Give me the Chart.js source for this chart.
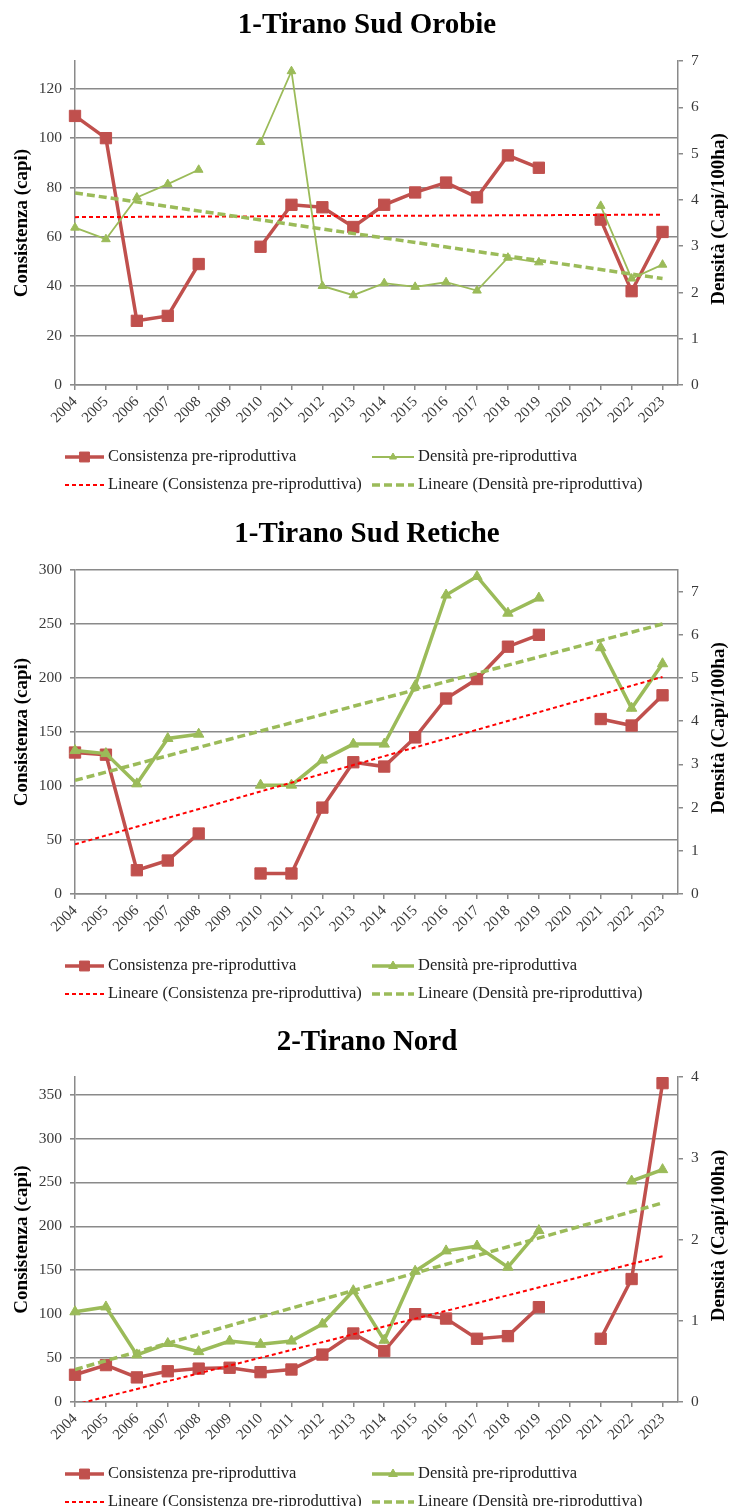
<!DOCTYPE html>
<html>
<head>
<meta charset="utf-8">
<script src="https://cdn.jsdelivr.net/npm/chart.js@4.4.0/dist/chart.umd.min.js"></script>
<style>
  html, body { margin: 0; padding: 0; background: #fff; overflow: hidden; width: 729px; height: 1506px; }
  .block { position: absolute; left: 0; width: 729px; height: 509px; }
</style>
</head>
<body>
<div class="block" style="top:0px"><canvas id="c1" width="729" height="509"></canvas></div>
<div class="block" style="top:509px"><canvas id="c2" width="729" height="509"></canvas></div>
<div class="block" style="top:1017px"><canvas id="c3" width="729" height="509"></canvas></div>
<script>
const years = [2004, 2005, 2006, 2007, 2008, 2009, 2010, 2011, 2012, 2013,
               2014, 2015, 2016, 2017, 2018, 2019, 2020, 2021, 2022, 2023];
const trendYears = [2004, 2023];

// 1-Tirano Sud Orobie
const orobieCons = [109, 100, 26, 28, 49, null, 56, 73, 72, 64, 73, 78, 82, 76, 93, 88, null, 67, 38, 62];
const orobieDens = [3.40, 3.15, 4.05, 4.34, 4.65, null, 5.25, 6.78, 2.14, 1.94, 2.20, 2.12, 2.22, 2.04, 2.75, 2.65, null, 3.87, 2.30, 2.60];
const orobieConsTrend = [68, 69];
const orobieDensTrend = [4.15, 2.30];
const orobieLeftTicks = [0, 20, 40, 60, 80, 100, 120];
const orobieRightTicks = [0, 1, 2, 3, 4, 5, 6, 7];

// 1-Tirano Sud Retiche
const reticheCons = [131, 129, 22, 31, 56, null, 19, 19, 80, 122, 118, 145, 181, 199, 229, 240, null, 162, 156, 184];
const reticheDens = [3.32, 3.25, 2.55, 3.60, 3.70, null, 2.52, 2.52, 3.10, 3.47, 3.47, 4.82, 6.92, 7.35, 6.50, 6.85, null, 5.70, 4.30, 5.33];
const reticheConsTrend = [46, 201];
const reticheDensTrend = [2.63, 6.25];
const reticheLeftTicks = [0, 50, 100, 150, 200, 250, 300];
const reticheRightTicks = [0, 1, 2, 3, 4, 5, 6, 7];

// 2-Tirano Nord
const nordCons = [31, 42, 28, 35, 38, 39, 34, 37, 54, 78, 58, 100, 95, 72, 75, 108, null, 72, 140, 363];
const nordDens = [1.11, 1.17, 0.58, 0.72, 0.62, 0.75, 0.71, 0.75, 0.96, 1.37, 0.76, 1.61, 1.86, 1.92, 1.66, 2.11, null, null, 2.72, 2.86];
const nordConsTrend = [-3, 166];
const nordDensTrend = [0.40, 2.45];
const nordLeftTicks = [0, 50, 100, 150, 200, 250, 300, 350];
const nordRightTicks = [0, 1, 2, 3, 4];

const RED = '#C0504D';
const GREEN = '#9BBB59';
const GRID = '#8a8a8a';
const FONT = '"Liberation Serif", serif';

Chart.defaults.font.family = FONT;
Chart.defaults.color = '#3a3a3a';

const xy = (xs, ys) => xs.map((x, i) => ({ x: x, y: ys[i] }));

// titles, axis titles and legend
const decor = {
  id: 'decor',
  afterDraw(chart, args, o) {
    const ctx = chart.ctx;
    const a = chart.chartArea;
    const cy = (a.top + a.bottom) / 2;
    ctx.save();
    ctx.fillStyle = '#000';
    ctx.textAlign = 'center';
    ctx.textBaseline = 'middle';
    ctx.font = 'bold 29px ' + FONT;
    ctx.fillText(o.title, 367, o.titleY);

    ctx.font = 'bold 19px ' + FONT;
    ctx.save();
    ctx.translate(22, cy);
    ctx.rotate(-Math.PI / 2);
    ctx.fillText('Consistenza (capi)', 0, 0);
    ctx.restore();
    ctx.save();
    ctx.translate(719, cy - 4);
    ctx.rotate(-Math.PI / 2);
    ctx.fillText('Densità (Capi/100ha)', 0, 0);
    ctx.restore();

    const ds = chart.data.datasets;
    const items = [
      { d: ds[0], x0: 65, x1: 104, y: 457 },
      { d: ds[1], x0: 372, x1: 414, y: 457 },
      { d: ds[2], x0: 65, x1: 104, y: 485 },
      { d: ds[3], x0: 372, x1: 414, y: 485 }
    ];
    items.forEach(it => {
      const d = it.d;
      ctx.save();
      ctx.strokeStyle = d.borderColor;
      ctx.lineWidth = d.borderWidth;
      ctx.setLineDash(d.borderDash || []);
      ctx.beginPath();
      ctx.moveTo(it.x0, it.y);
      ctx.lineTo(it.x1, it.y);
      ctx.stroke();
      ctx.setLineDash([]);
      if (d.pointRadius > 0) {
        ctx.fillStyle = d.backgroundColor;
        ctx.lineWidth = 1;
        Chart.helpers.drawPoint(ctx, { pointStyle: d.pointStyle, radius: d.pointRadius - 1, rotation: 0, borderWidth: 1 },
          (it.x0 + it.x1) / 2, it.y);
      }
      ctx.restore();
      ctx.fillStyle = '#222';
      ctx.textAlign = 'left';
      ctx.font = '16.5px ' + FONT;
      ctx.fillText(d.label, it.x1 + 4, it.y);
    });
    ctx.restore();
  }
};

function makeChart(id, cfg) {
  new Chart(document.getElementById(id), {
    type: 'line',
    data: {
      datasets: [
        {
          label: 'Consistenza pre-riproduttiva',
          data: xy(years, cfg.cons),
          yAxisID: 'y',
          borderColor: RED,
          backgroundColor: RED,
          borderWidth: 3.5,
          pointStyle: 'rect',
          pointRadius: 8,
          pointBorderWidth: 1,
          spanGaps: false,
          clip: false,
          order: 3
        },
        {
          label: 'Densità pre-riproduttiva',
          data: xy(years, cfg.dens),
          yAxisID: 'y1',
          borderColor: GREEN,
          backgroundColor: GREEN,
          borderWidth: cfg.greenWidth,
          pointStyle: 'triangle',
          pointRadius: cfg.greenRadius,
          pointBorderWidth: 1,
          spanGaps: false,
          clip: false,
          order: 2
        },
        {
          label: 'Lineare (Consistenza pre-riproduttiva)',
          data: xy(trendYears, cfg.consTrend),
          yAxisID: 'y',
          borderColor: '#FF0000',
          backgroundColor: '#FF0000',
          borderWidth: 2,
          borderDash: [4, 3],
          pointRadius: 0,
          order: 1
        },
        {
          label: 'Lineare (Densità pre-riproduttiva)',
          data: xy(trendYears, cfg.densTrend),
          yAxisID: 'y1',
          borderColor: GREEN,
          backgroundColor: GREEN,
          borderWidth: 3.5,
          borderDash: [8, 4],
          pointRadius: 0,
          order: 0
        }
      ]
    },
    options: {
      responsive: false,
      animation: false,
      events: [],
      layout: { padding: { top: cfg.top, left: 0, right: 0, bottom: 0 } },
      scales: {
        x: {
          type: 'linear',
          min: 2004,
          max: 2023.5,
          afterBuildTicks: s => { s.ticks = years.map(v => ({ value: v })); },
          afterFit: s => { s.height = 124; },
          ticks: {
            autoSkip: false,
            minRotation: 45,
            maxRotation: 45,
            padding: 3,
            font: { size: 15 },
            callback: v => String(v)
          },
          grid: { drawOnChartArea: false, color: GRID, lineWidth: 1.5, tickLength: 5 },
          border: { color: GRID, width: 1.5 }
        },
        y: {
          position: 'left',
          min: 0,
          max: cfg.leftMax,
          afterBuildTicks: s => { s.ticks = cfg.leftTicks.map(v => ({ value: v })); },
          afterFit: s => { s.width = 75; },
          ticks: { autoSkip: false, padding: 8, font: { size: 15.5 } },
          grid: { color: GRID, lineWidth: 1.6, tickLength: 5 },
          border: { color: GRID, width: 1.5 }
        },
        y1: {
          position: 'right',
          min: 0,
          max: cfg.rightMax,
          afterBuildTicks: s => { s.ticks = cfg.rightTicks.map(v => ({ value: v })); },
          afterFit: s => { s.width = 51; },
          ticks: { autoSkip: false, padding: 8, font: { size: 15.5 } },
          grid: { drawOnChartArea: false, color: GRID, lineWidth: 1.5, tickLength: 5 },
          border: { color: GRID, width: 1.5 }
        }
      },
      plugins: {
        legend: { display: false },
        tooltip: { enabled: false },
        decor: { title: cfg.title, titleY: 26 }
      }
    },
    plugins: [decor]
  });
}

makeChart('c1', {
  title: '1-Tirano Sud Orobie',
  cons: orobieCons, dens: orobieDens,
  consTrend: orobieConsTrend, densTrend: orobieDensTrend,
  leftTicks: orobieLeftTicks, rightTicks: orobieRightTicks,
  leftMax: 131.25, rightMax: 7,
  greenWidth: 1.8, greenRadius: 5, top: 61
});

makeChart('c2', {
  title: '1-Tirano Sud Retiche',
  cons: reticheCons, dens: reticheDens,
  consTrend: reticheConsTrend, densTrend: reticheDensTrend,
  leftTicks: reticheLeftTicks, rightTicks: reticheRightTicks,
  leftMax: 300, rightMax: 7.5,
  greenWidth: 3.5, greenRadius: 6, top: 61
});

makeChart('c3', {
  title: '2-Tirano Nord',
  cons: nordCons, dens: nordDens,
  consTrend: nordConsTrend, densTrend: nordDensTrend,
  leftTicks: nordLeftTicks, rightTicks: nordRightTicks,
  leftMax: 370, rightMax: 4,
  greenWidth: 3.5, greenRadius: 6, top: 60
});
</script>
</body>
</html>
